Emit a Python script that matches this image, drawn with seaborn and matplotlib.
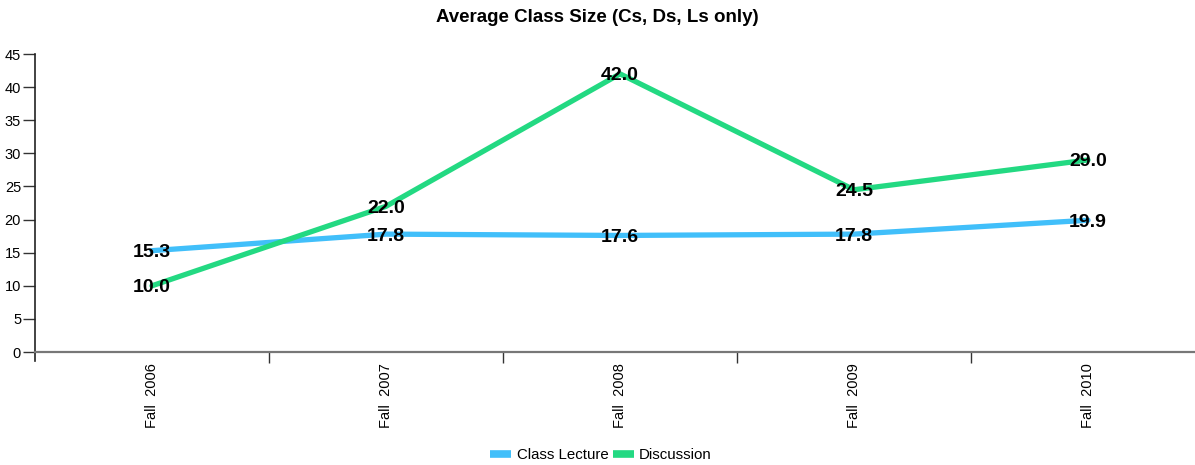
import pandas as pd
import numpy as np
import matplotlib
matplotlib.use("Agg")
import matplotlib.pyplot as plt
import matplotlib.ticker as ticker
import seaborn as sns

terms = ["Fall  2006", "Fall  2007", "Fall  2008", "Fall  2009", "Fall  2010"]
lecture = [15.3, 17.8, 17.6, 17.8, 19.9]
discussion = [10.0, 22.0, 42.0, 24.5, 29.0]
series_names = ["Class Lecture", "Discussion"]
colors = ["#41BFFA", "#23D982"]

sns.set_style("white")
plt.rcParams["font.family"] = ["Liberation Sans", "DejaVu Sans"]
plt.rcParams["text.color"] = "black"
plt.rcParams["xtick.color"] = "black"
plt.rcParams["ytick.color"] = "black"

df = pd.DataFrame({
    "pos": list(range(len(terms))) * 2,
    "value": lecture + discussion,
    "series": [series_names[0]] * len(terms) + [series_names[1]] * len(terms),
})

fig = plt.figure(figsize=(11.95, 4.65), dpi=100)
# the plot area runs a little past the right edge, as in the original
ax = fig.add_axes([35 / 1195, 113 / 465, 1170 / 1195, 298 / 465])

sns.lineplot(data=df, x="pos", y="value", hue="series",
             palette=dict(zip(series_names, colors)), linewidth=3.8,
             ax=ax, legend=False)

for _, row in df.iterrows():
    ax.text(row.pos, row.value - 0.3, "{:.1f}".format(row.value),
            ha="center", va="center", fontsize=14, fontweight="bold",
            color="black")

ax.set_xlim(-0.5, len(terms) - 0.5)
ax.set_ylim(0, 45)
ax.set_xlabel("")
ax.set_ylabel("")

ax.yaxis.set_major_locator(ticker.MultipleLocator(5))
ax.tick_params(axis="y", which="major", length=9, width=1, direction="out",
               labelsize=10.5, pad=1, left=True, color="#333333",
               labelcolor="black")

ax.set_xticks(range(len(terms)))
ax.set_xticklabels(terms, rotation=90, fontsize=10.5, va="top")
ax.set_xticks(np.arange(0.5, len(terms) - 0.5, 1), minor=True)
ax.tick_params(axis="x", which="major", length=0, pad=8, labelcolor="black")
ax.tick_params(axis="x", which="minor", length=8, width=1, direction="out",
               bottom=True, color="#333333")

for side in ["top", "right"]:
    ax.spines[side].set_visible(False)
ax.spines["left"].set_color("#222222")
ax.spines["left"].set_linewidth(1.2)
ax.spines["left"].set_bounds(-1.3, 45)
ax.spines["bottom"].set_color("#777777")
ax.spines["bottom"].set_linewidth(1.6)

fig.suptitle("Average Class Size (Cs, Ds, Ls only)", y=1 - 18 / 465,
             va="center", fontsize=13.5, fontweight="bold", color="black")

handles = [plt.Line2D([], [], color=c, linewidth=5.5, solid_capstyle="butt")
           for c in colors]
fig.legend(handles, series_names, loc="center", ncol=2,
           bbox_to_anchor=(0.503, 1 - 455 / 465), frameon=False, fontsize=10.8,
           handlelength=1.4, handletextpad=0.35, columnspacing=0.3)

fig.savefig("out.png", dpi=100)
